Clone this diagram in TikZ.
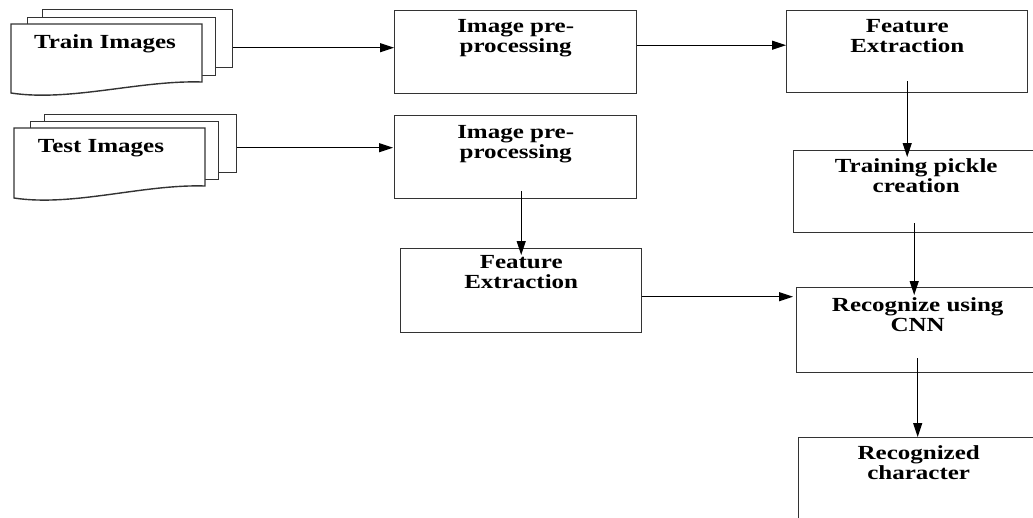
\documentclass[tikz,border=0pt]{standalone}
\usepackage{fontspec}
\newfontfamily\boxfont[FakeStretch=1.25]{Liberation Serif}
\usepackage{tikz}
\usetikzlibrary{arrows.meta,positioning}

\begin{document}
\begin{tikzpicture}[
  x=1pt,y=-1pt,
  box/.style={rectangle,draw=black!80,line width=1.4pt,fill=white,anchor=north west,inner sep=0pt},
  page/.style={box,minimum width=190pt,minimum height=58pt},
  txt/.style={font=\boxfont\bfseries\fontsize{20}{20}\selectfont,align=center,inner sep=0pt},
  arr/.style={-{Triangle[length=14pt,width=9pt]},line width=1.2pt}
]
  \useasboundingbox (0,0) rectangle (1033,517);
  \clip (0,0) rectangle (1033,517);

  % train image stack
  \node[page] (trainC) at (42,9) {};
  \node[page,minimum width=188pt] (trainB) at (27,17) {};
  \draw[draw=black!80,line width=1.4pt,fill=white] (11,24) -- (202,24) -- (202,82)
    .. controls (140,80) and (70,102) .. (11,93) -- cycle;
  \node[txt,anchor=north] (train) at (105,34) {Train Images};

  % test image stack
  \node[page,minimum width=192pt] (testC) at (44,114) {};
  \node[page,minimum width=188pt] (testB) at (30,121) {};
  \draw[draw=black!80,line width=1.4pt,fill=white] (14,128) -- (205,128) -- (205,186)
    .. controls (143,184) and (73,207) .. (14,198) -- cycle;
  \node[txt,anchor=north] (test) at (101,139) {Test Images};

  % process boxes
  \node[box,minimum width=242pt,minimum height=83pt] (pre1) at (394,10) {};
  \node[box,minimum width=242pt,minimum height=83pt] (pre2) at (394,115) {};
  \node[box,minimum width=241pt,minimum height=82pt] (fe1) at (786,10) {};
  \node[box,minimum width=241pt,minimum height=84pt] (fe2) at (400,248) {};
  \node[box,minimum width=245pt,minimum height=82pt] (pickle) at (793,150) {};
  \node[box,minimum width=242pt,minimum height=85pt] (recog) at (796,287) {};
  \node[box,minimum width=240pt,minimum height=100pt] (result) at (798,437) {};

  \node[txt,below=9pt of pre1.north] {Image pre-\\processing};
  \node[txt,below=10pt of pre2.north] {Image pre-\\processing};
  \node[txt,below=9pt of fe1.north] {Feature\\Extraction};
  \node[txt,below=7pt of fe2.north] {Feature\\Extraction};
  \node[txt,below=8pt of pickle.north] {Training pickle\\creation};
  \node[txt,below=10pt of recog.north] {Recognize using\\CNN};
  \node[txt,below=8pt of result.north] {Recognized\\character};

  \draw[arr] ([yshift=-9pt]trainC.east) -- ([yshift=-9pt]trainC.east -| pre1.west);
  \draw[arr] ([yshift=-4pt]testC.east) -- ([xshift=-1pt,yshift=-4pt]testC.east -| pre2.west);
  \draw[arr] ([yshift=7pt]pre1.east) -- ([yshift=7pt]pre1.east -| fe1.west);
  \draw[arr] ([yshift=8pt]pre2.south -| fe2.north) -- ([yshift=-7pt]fe2.north);
  \draw[arr] ([yshift=12pt]fe1.south) -- ([yshift=-7pt]fe1.south |- pickle.north);
  \draw[arr] ([xshift=-2pt,yshift=10pt]pickle.south) -- ([xshift=-2pt,yshift=-8pt]pickle.south |- recog.north);
  \draw[arr] ([yshift=15pt]recog.south) -- (recog.south |- result.north);
  \draw[arr] ([yshift=-6pt]fe2.east) -- ([xshift=-3pt,yshift=-6pt]fe2.east -| recog.west);
\end{tikzpicture}
\end{document}
